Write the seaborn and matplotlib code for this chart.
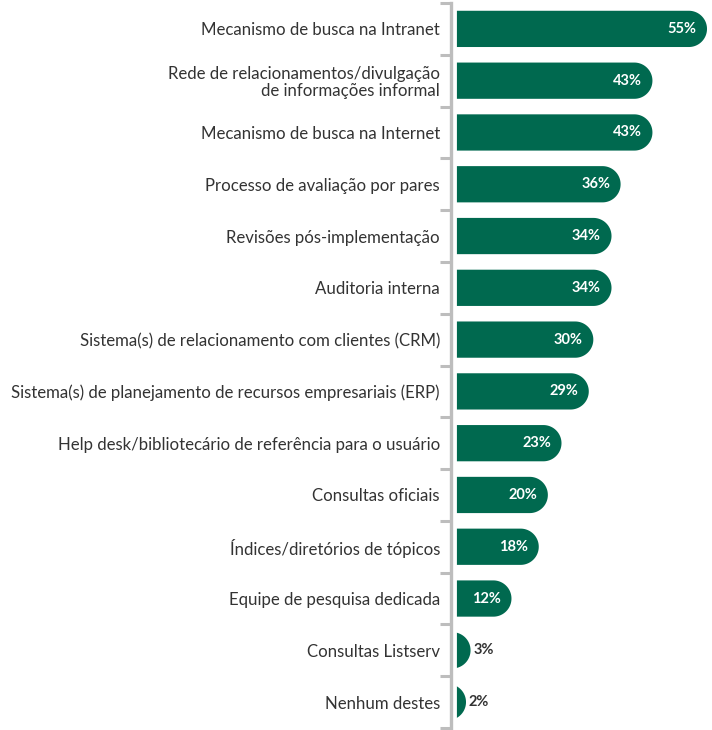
import numpy as np
import pandas as pd
import matplotlib
matplotlib.use('Agg')
import matplotlib.pyplot as plt
from matplotlib.path import Path
from matplotlib.patches import PathPatch
import seaborn as sns

"""horizontal bar chart with rounded bar ends, categories ordered by share"""

categories = ['Mecanismo de busca na Intranet',
              'Rede de relacionamentos/divulgação\nde informações informal',
              'Mecanismo de busca na Internet',
              'Processo de avaliação por pares',
              'Revisões pós-implementação',
              'Auditoria interna',
              'Sistema(s) de relacionamento com clientes (CRM)',
              'Sistema(s) de planejamento de recursos empresariais (ERP)',
              'Help desk/bibliotecário de referência para o usuário',
              'Consultas oficiais',
              'Índices/diretórios de tópicos',
              'Equipe de pesquisa dedicada',
              'Consultas Listserv',
              'Nenhum destes']
values = [55, 43, 43, 36, 34, 34, 30, 29, 23, 20, 18, 12, 3, 2]
value_labels = [f'{v}%' for v in values]

green = '#00694F'
grey = '#BDBDBD'
text_col = '#333333'


def round_bars(ax, fig):
    """swap each seaborn bar for a path with a semicircular right end"""
    fig.canvas.draw()
    inv = ax.transData
    for patch in list(ax.patches):
        x0, y0 = patch.get_x(), patch.get_y()
        w, h = patch.get_width(), patch.get_height()
        x1, y1 = x0 + w, y0 + h
        # pixels per data unit
        p0 = inv.transform((0, 0))
        px = inv.transform((1, 1)) - p0
        r_px = abs(h * px[1]) / 2
        rx = r_px / abs(px[0])
        ry = h / 2
        yc = y0 + ry
        xc = x1 - rx
        t = np.linspace(-np.pi / 2, np.pi / 2, 60)
        arc_x = xc + rx * np.cos(t)
        arc_y = yc + ry * np.sin(t)
        xs = np.concatenate([[x0], np.clip(arc_x, x0, None), [x0]])
        ys = np.concatenate([[y0], arc_y, [y1]])
        verts = np.column_stack([xs, ys])
        verts = np.vstack([verts, verts[:1]])
        codes = [Path.MOVETO] + [Path.LINETO] * (len(verts) - 2) + [Path.CLOSEPOLY]
        ax.add_patch(PathPatch(Path(verts, codes), facecolor=patch.get_facecolor(),
                               edgecolor='none', zorder=2))
        patch.set_visible(False)


def main():
    sns.set_style('white')
    plt.rcParams['font.family'] = ['Lato', 'DejaVu Sans']

    df = pd.DataFrame({'cat': categories, 'val': values})
    fig = plt.figure(figsize=(7.12, 7.30), dpi=100)
    ax = fig.add_axes([451 / 712, 2 / 730, 259 / 712, 725 / 730])
    sns.barplot(data=df, x='val', y='cat', color=green, width=0.70, saturation=1, ax=ax)

    ax.set_xlim(-1.3, 55.66)
    ax.set_ylim(13.5, -0.5)
    ax.set_xlabel('')
    ax.set_ylabel('')
    ax.set_xticks([])

    for s in ['top', 'right', 'bottom']:
        ax.spines[s].set_visible(False)
    ax.spines['left'].set_color(grey)
    ax.spines['left'].set_linewidth(2.4)

    ax.set_yticks(range(len(categories)))
    ax.set_yticklabels(categories, fontsize=12.1, color=text_col, ha='right')
    for lab in ax.get_yticklabels():
        lab.set_linespacing(1.05)
    ax.set_yticks(np.arange(-0.5, len(categories), 1), minor=True)
    ax.tick_params(axis='y', which='major', left=True, length=0, pad=8)
    ax.tick_params(axis='y', which='minor', left=True, length=8, width=2.2,
                   color=grey, direction='out')

    round_bars(ax, fig)

    for i, (v, lab) in enumerate(zip(values, value_labels)):
        if v >= 10:
            ax.text(v - 2.3, i, lab, ha='right', va='center', color='white',
                    fontsize=10.5, fontweight='bold')
        else:
            ax.text(v + 0.6, i, lab, ha='left', va='center', color=text_col,
                    fontsize=10.5, fontweight='bold')

    fig.savefig('out.png', dpi=100)
    plt.close()


main()
